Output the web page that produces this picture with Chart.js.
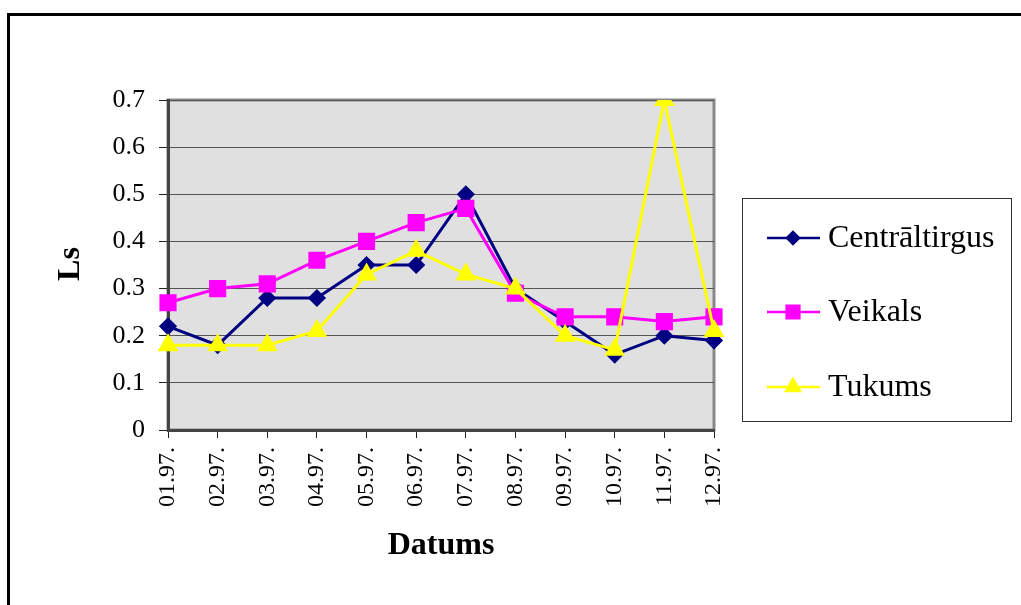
<!DOCTYPE html>
<html>
<head>
<meta charset="utf-8">
<script src="https://cdn.jsdelivr.net/npm/chart.js@4/dist/chart.umd.min.js"></script>
<style>
  html, body { margin: 0; padding: 0; background: #fff; }
  #wrap { width: 1021px; height: 605px; }
</style>
</head>
<body>
<div id="wrap"><canvas id="priceChart" width="1021" height="605"></canvas></div>
<script>
const months = ["01.97.", "02.97.", "03.97.", "04.97.", "05.97.", "06.97.",
                "07.97.", "08.97.", "09.97.", "10.97.", "11.97.", "12.97."];
const centraltirgus = [0.22, 0.18, 0.28, 0.28, 0.35, 0.35, 0.50, 0.30, 0.23, 0.16, 0.20, 0.19];
const veikals       = [0.27, 0.30, 0.31, 0.36, 0.40, 0.44, 0.47, 0.29, 0.24, 0.24, 0.23, 0.24];
const tukums        = [0.18, 0.18, 0.18, 0.21, 0.33, 0.38, 0.33, 0.30, 0.20, 0.17, 0.70, 0.21];
const yTicks = [0, 0.1, 0.2, 0.3, 0.4, 0.5, 0.6, 0.7];

const serif = "'Liberation Serif', 'Times New Roman', serif";

// white page, black frame, grey plot area
const backdrop = {
  id: "backdrop",
  beforeDraw(chart) {
    const { ctx, chartArea: a } = chart;
    ctx.save();
    ctx.fillStyle = "#fff";
    ctx.fillRect(0, 0, chart.width, chart.height);
    ctx.strokeStyle = "#000";
    ctx.lineWidth = 3;
    ctx.beginPath();
    ctx.moveTo(8.5, chart.height);
    ctx.lineTo(8.5, 14.5);
    ctx.lineTo(chart.width, 14.5);
    ctx.stroke();
    ctx.fillStyle = "#e0e0e0";
    ctx.fillRect(a.left, a.top, a.right - a.left, a.bottom - a.top);
    ctx.strokeStyle = "#888";
    ctx.lineWidth = 3;
    ctx.strokeRect(a.left, a.top, a.right - a.left, a.bottom - a.top);
    ctx.restore();
  }
};

// axis titles and the boxed legend on the right
const extras = {
  id: "extras",
  afterDraw(chart) {
    const { ctx } = chart;
    ctx.save();
    ctx.fillStyle = "#000";
    ctx.font = "bold 32px " + serif;
    ctx.textAlign = "center";
    ctx.textBaseline = "middle";
    ctx.fillText("Datums", 441, 546);
    ctx.translate(71, 264);
    ctx.rotate(-Math.PI / 2);
    ctx.fillText("Ls", 0, 0);
    ctx.restore();

    ctx.save();
    ctx.strokeStyle = "#333";
    ctx.lineWidth = 1;
    ctx.strokeRect(742.5, 198.5, 269, 223);
    const rows = [238, 312, 387];
    chart.data.datasets.forEach((ds, i) => {
      const y = rows[i];
      ctx.strokeStyle = ds.borderColor;
      ctx.lineWidth = 2.5;
      ctx.beginPath();
      ctx.moveTo(767, y);
      ctx.lineTo(820, y);
      ctx.stroke();
      ctx.fillStyle = ds.pointBackgroundColor;
      ctx.strokeStyle = ds.pointBorderColor;
      Chart.helpers.drawPoint(ctx, {
        pointStyle: ds.pointStyle,
        radius: ds.pointRadius - 1,
        rotation: 0,
        borderWidth: 1
      }, 793, y);
      ctx.fillStyle = "#000";
      ctx.font = "32px " + serif;
      ctx.textAlign = "left";
      ctx.textBaseline = "middle";
      ctx.fillText(ds.label, 828, y + 1);
    });
    ctx.restore();
  }
};

new Chart(document.getElementById("priceChart"), {
  type: "line",
  data: {
    labels: months,
    datasets: [
      {
        label: "Centrāltirgus",
        data: centraltirgus,
        borderColor: "#000080",
        pointBackgroundColor: "#000080",
        pointBorderColor: "#000080",
        pointStyle: "rectRot",
        pointRadius: 7,
        borderWidth: 3,
        order: 3
      },
      {
        label: "Veikals",
        data: veikals,
        borderColor: "#ff00ff",
        pointBackgroundColor: "#ff00ff",
        pointBorderColor: "#ff00ff",
        pointStyle: "rect",
        pointRadius: 10,
        borderWidth: 3,
        order: 2
      },
      {
        label: "Tukums",
        data: tukums,
        borderColor: "#ffff00",
        pointBackgroundColor: "#ffff00",
        pointBorderColor: "#ffff00",
        pointStyle: "triangle",
        pointRadius: 9,
        borderWidth: 3,
        order: 1
      }
    ]
  },
  options: {
    responsive: false,
    animation: false,
    layout: { padding: { left: 0, right: 307, top: 100, bottom: 0 } },
    plugins: {
      legend: { display: false },
      tooltip: { enabled: false }
    },
    scales: {
      x: {
        offset: false,
        grid: {
          color: "rgba(0,0,0,0)",
          tickColor: "#222",
          tickLength: 8,
          drawOnChartArea: true
        },
        border: { color: "#444", width: 3 },
        ticks: {
          color: "#000",
          font: { family: serif, size: 24 },
          minRotation: 90,
          maxRotation: 90,
          padding: 9
        },
        afterFit(scale) { scale.height = 175; }
      },
      y: {
        min: 0,
        max: 0.7,
        afterBuildTicks(scale) { scale.ticks = yTicks.map(v => ({ value: v })); },
        grid: {
          color: "#555",
          lineWidth: 1,
          borderDash: [1, 1],
          tickColor: "#222",
          tickBorderDash: [],
          tickLength: 9
        },
        border: { color: "#444", width: 3 },
        ticks: {
          color: "#000",
          font: { family: serif, size: 26 },
          padding: 14,
          callback: v => (v === 0 ? "0" : v.toFixed(1))
        },
        afterFit(scale) { scale.width = 168; }
      }
    }
  },
  plugins: [backdrop, extras]
});
</script>
</body>
</html>
